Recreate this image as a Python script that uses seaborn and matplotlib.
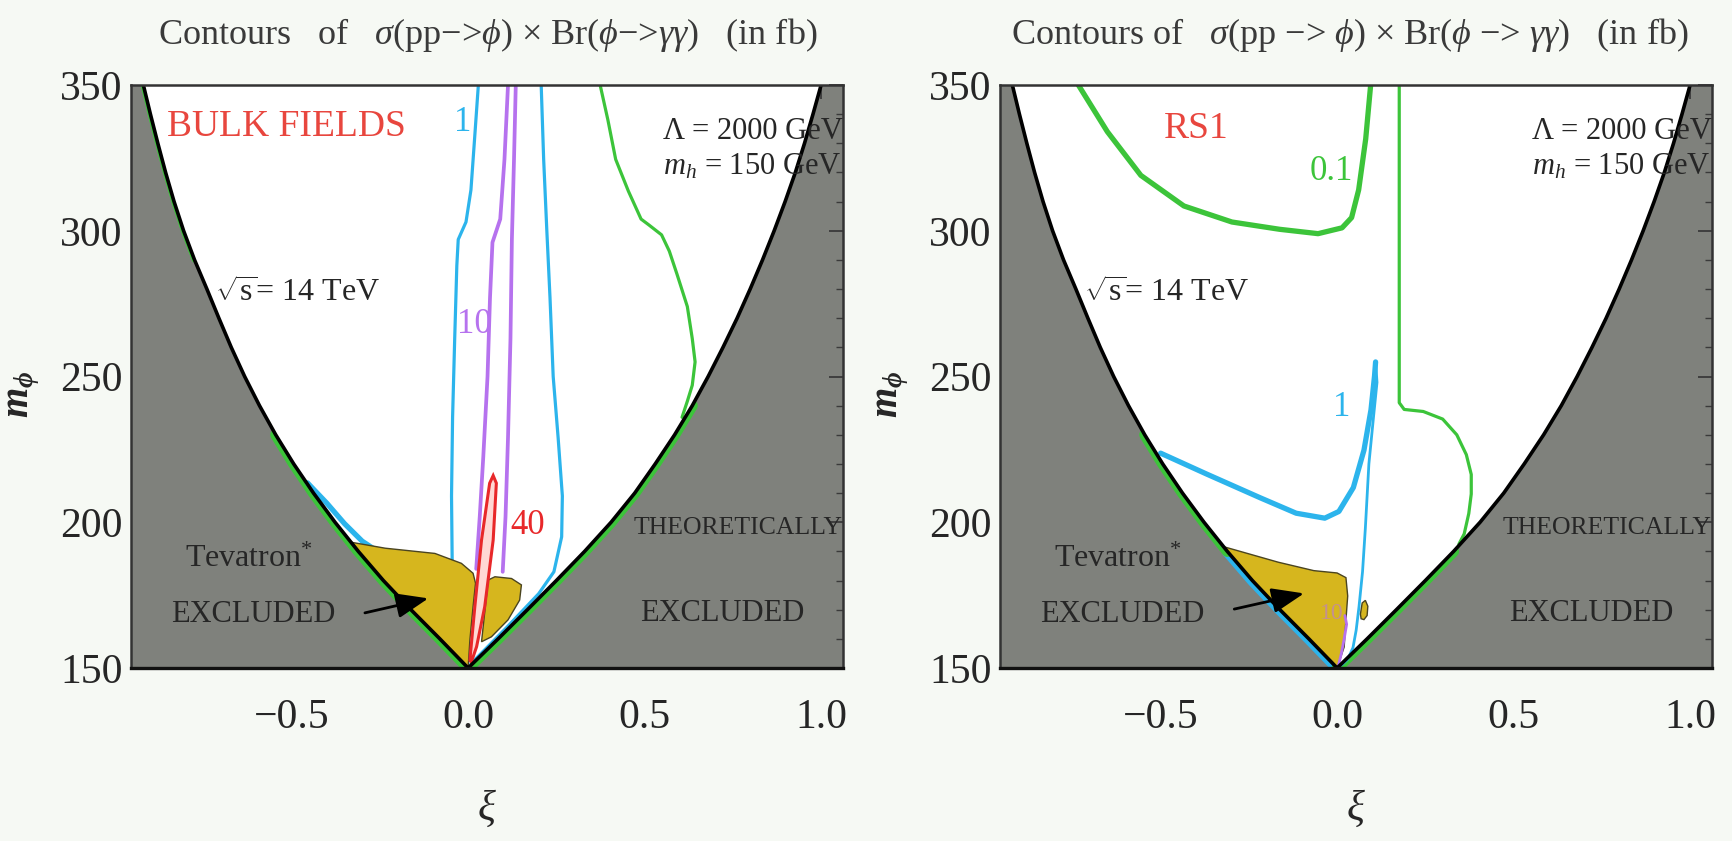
import matplotlib
matplotlib.use("Agg")
import matplotlib.pyplot as plt
from matplotlib.ticker import MultipleLocator
import seaborn as sns

# ---------------------------------------------------------------
# Theoretical bound on the mixing parameter xi (both scenarios)
# ---------------------------------------------------------------
bound_m = [150, 160, 170, 180, 190, 200, 210, 220, 230, 240, 250,
           260, 270, 280, 290, 300, 310, 320, 330, 340, 350]
bound_xi_lo = [0.0, -0.080, -0.162, -0.240, -0.311, -0.377, -0.438, -0.494,
               -0.545, -0.591, -0.633, -0.671, -0.706, -0.740, -0.775,
               -0.806, -0.833, -0.857, -0.879, -0.900, -0.920]
bound_xi_hi = [0.0, 0.085, 0.168, 0.250, 0.330, 0.405, 0.472, 0.530,
               0.585, 0.635, 0.680, 0.722, 0.762, 0.799, 0.834, 0.867,
               0.898, 0.927, 0.953, 0.977, 1.000]

# ---------------------------------------------------------------
# Bulk-fields scenario: contours of sigma x Br (fb)
# ---------------------------------------------------------------
bulk_c1_left_xi = [0.029, 0.018, 0.008, -0.006, -0.028, -0.032, -0.038, -0.044, -0.047, -0.045]
bulk_c1_left_m = [350, 331, 314, 303, 297, 288, 263, 236, 209, 185]
bulk_c1_right_xi = [0.207, 0.214, 0.223, 0.232, 0.241, 0.255, 0.267, 0.265, 0.243, 0.200, 0.110, 0.045, 0.008]
bulk_c1_right_m = [350, 324.5, 300, 277, 250, 229, 209, 195, 183, 175.5, 164, 156, 151.5]
bulk_c1_low_xi = [-0.455, -0.40, -0.35, -0.30, -0.25]
bulk_c1_low_m = [213.5, 206.5, 199.5, 193.5, 189.5]

bulk_c10_left_xi = [0.113, 0.103, 0.091, 0.069, 0.062, 0.055, 0.043, 0.033, 0.023]
bulk_c10_left_m = [350, 324.5, 304, 296, 277, 250, 222.5, 202, 184]
bulk_c10_right_xi = [0.135, 0.130, 0.124, 0.120, 0.113, 0.106, 0.098]
bulk_c10_right_m = [350, 324.5, 297, 263, 229, 202, 183]

bulk_c40_xi = [0.005, 0.019, 0.038, 0.061, 0.071, 0.080, 0.071, 0.047, 0.024, 0.009, 0.005]
bulk_c40_m = [152.7, 171.0, 193.9, 213.4, 216.0, 213.4, 193.9, 171.0, 157.3, 152.0, 152.7]

bulk_c01_xi = [0.374, 0.396, 0.418, 0.454, 0.490, 0.512, 0.548, 0.570, 0.592,
               0.621, 0.635, 0.643, 0.635, 0.621, 0.606]
bulk_c01_m = [350, 338, 324.5, 313.6, 304, 302, 298.6, 293, 285, 274, 263, 255, 247, 241.5, 236]

bulk_tev_xi = [-0.334, -0.235, -0.094, -0.019, 0.014, 0.021, 0.014, 0.005, 0.0,
               -0.080, -0.162, -0.240, -0.311, -0.334]
bulk_tev_m = [193.2, 191.1, 189.3, 185.9, 182.5, 179.1, 171.0, 159.6, 150.0,
              160, 170, 180, 190, 193.2]
bulk_lobe_xi = [0.038, 0.057, 0.076, 0.123, 0.151, 0.146, 0.113, 0.066, 0.038]
bulk_lobe_m = [159.0, 180.2, 181.3, 180.7, 178.5, 173.3, 166.5, 160.7, 159.0]
bulk_arrow_xi = [-0.300, -0.105]
bulk_arrow_m = [168.7, 174.1]

# ---------------------------------------------------------------
# RS1 scenario
# ---------------------------------------------------------------
rs_c01_u_xi = [-0.733, -0.651, -0.556, -0.434, -0.298, -0.163, -0.054, 0.014, 0.041, 0.061, 0.081, 0.095]
rs_c01_u_m = [350, 334, 319, 308.5, 303, 300.5, 299, 301, 304.5, 314, 331.5, 350]
rs_c01_v_xi = [0.176, 0.176, 0.190, 0.244, 0.299, 0.339, 0.366, 0.380, 0.380, 0.373, 0.360, 0.345]
rs_c01_v_m = [350, 241, 238.7, 238, 235.4, 230, 223.2, 216.4, 209.7, 203, 196, 192.5]

rs_c1_thick_xi = [-0.500, -0.369, -0.218, -0.116, -0.035, 0.005, 0.046, 0.076, 0.096, 0.106, 0.109]
rs_c1_thick_m = [223.7, 216.5, 208.4, 203.1, 201.4, 203.7, 211.9, 224.7, 238.6, 250.2, 255]
rs_c1_thin_xi = [0.109, 0.113, 0.103, 0.090, 0.080, 0.072, 0.062, 0.054, 0.045, 0.030, 0.012]
rs_c1_thin_m = [255, 248, 236, 220, 198, 183, 171, 163, 157, 153, 151]

rs_c10_xi = [0.004, 0.012, 0.020, 0.027, 0.022]
rs_c10_m = [151, 155, 160, 165, 168]

rs_tev_xi = [-0.318, -0.167, -0.066, 0.0, 0.025, 0.030, 0.025, 0.020, 0.0,
             -0.080, -0.162, -0.240, -0.311, -0.318]
rs_tev_m = [191.5, 186.3, 183.4, 182.6, 181.0, 174.7, 166.5, 157.2, 150.0,
            160, 170, 180, 190, 191.5]
rs_blob_xi = [0.066, 0.071, 0.080, 0.087, 0.085, 0.076, 0.068, 0.066]
rs_blob_m = [168.5, 172.3, 173.2, 171.2, 168.0, 166.6, 166.9, 168.5]
rs_arrow_xi = [-0.299, -0.086]
rs_arrow_m = [170.0, 175.8]

xi_ticks = [-0.5, 0.0, 0.5, 1.0]
xi_tick_labels = ["−0.5", "0.0", "0.5", "1.0"]
m_ticks = [150, 200, 250, 300, 350]

title_bulk = r"Contours   of   $\sigma$(pp−>$\phi$) × Br($\phi$−>$\gamma\gamma$)   (in fb)"
title_rs = r"Contours of   $\sigma$(pp −> $\phi$) × Br($\phi$ −> $\gamma\gamma$)   (in fb)"

# ---------------------------------------------------------------
# Style
# ---------------------------------------------------------------
sns.set_theme(style="white")
plt.rcParams["font.family"] = ["Liberation Serif", "DejaVu Serif"]
plt.rcParams["mathtext.fontset"] = "custom"
plt.rcParams["mathtext.rm"] = "Liberation Serif"
plt.rcParams["mathtext.it"] = "Liberation Serif:italic"
plt.rcParams["mathtext.bf"] = "Liberation Serif:italic:bold"

BG = "#f6f9f4"
GRAY = "#7f817c"
CYAN = "#2cb4ec"
PURPLE = "#b672ee"
RED = "#e8282a"
GREEN = "#3cc43a"
YELLOW = "#d6b61e"
TXT = "#262626"

fig = plt.figure(figsize=(17.32, 8.41), dpi=100)
fig.patch.set_facecolor(BG)
W, H = 1732.0, 841.0
ax_bulk = fig.add_axes([131 / W, 173 / H, 712 / W, 583 / H])
ax_rs = fig.add_axes([1000 / W, 173 / H, 712 / W, 583 / H])


def line(ax, xs, ys, color, lw, z=3, **kw):
    sns.lineplot(x=xs, y=ys, sort=False, estimator=None, color=color,
                 linewidth=lw, ax=ax, zorder=z, legend=False, **kw)


def halo(ax, side, m_lo, m_hi, color, lw=8):
    xs = [x for x, m in zip(side, bound_m) if m_lo <= m <= m_hi]
    ms = [m for m in bound_m if m_lo <= m <= m_hi]
    line(ax, xs, ms, color, lw, z=1.2)


def base_panel(ax):
    ax.set_facecolor(GRAY)
    ax.fill_betweenx(bound_m, bound_xi_lo, bound_xi_hi, color="white",
                     lw=0, zorder=1.5)
    line(ax, bound_xi_lo, bound_m, "black", 2.6, z=6)
    line(ax, bound_xi_hi, bound_m, "black", 2.6, z=6)

    ax.set_xlim(-0.955, 1.062)
    ax.set_ylim(150, 350)
    ax.set_xticks(xi_ticks)
    ax.set_xticklabels(xi_tick_labels)
    ax.set_yticks(m_ticks)
    ax.set_yticklabels([str(v) for v in m_ticks])
    ax.xaxis.set_minor_locator(MultipleLocator(0.1))
    ax.yaxis.set_minor_locator(MultipleLocator(10))
    ax.tick_params(which="major", direction="in", length=10, width=1.3,
                   color="#3a3a3a", top=True, right=True, labelsize=30,
                   labelcolor=TXT)
    ax.tick_params(which="minor", direction="in", length=5, width=1.0,
                   color="#3a3a3a", top=True, right=True)
    ax.tick_params(axis="x", which="major", pad=22)
    ax.tick_params(axis="y", which="major", pad=6)
    for s in ax.spines.values():
        s.set_color("#333333")
        s.set_linewidth(1.8)
        s.set_zorder(8)
    ax.spines["bottom"].set_color("#111111")
    ax.spines["bottom"].set_linewidth(2.4)

    ax.set_xlabel(r"$\xi$", fontsize=30, color=TXT)
    ax.xaxis.set_label_coords(0.5, -0.205)
    ax.set_ylabel(r"$\mathbf{m_{\phi}}$", fontsize=28, color=TXT)
    ax.yaxis.set_label_coords(-0.125, 0.47)

    tkw = dict(transform=ax.transAxes, color=TXT, zorder=9)
    ax.text(0.747, 0.920, "Λ = 2000 GeV", fontsize=22, va="center", ha="left", **tkw)
    ax.text(0.747, 0.859, r"$m_h$ = 150 GeV", fontsize=22, va="center", ha="left", **tkw)
    ax.text(0.118, 0.641, r"$\sqrt{\mathrm{s}}$= 14 TeV", fontsize=23, va="center", ha="left", **tkw)
    ax.text(0.165, 0.186, r"Tevatron$^{*}$", fontsize=23, va="center", ha="center", **tkw)
    ax.text(0.172, 0.092, "EXCLUDED", fontsize=22, va="center", ha="center", **tkw)
    ax.text(0.706, 0.240, "THEORETICALLY", fontsize=18.5, va="center", ha="left",
            clip_on=True, **tkw)
    ax.text(0.830, 0.093, "EXCLUDED", fontsize=22, va="center", ha="center", **tkw)


# ---------------------------- bulk fields panel ----------------------------
ax = ax_bulk
halo(ax, bound_xi_lo, 150, 230, GREEN)
halo(ax, bound_xi_hi, 150, 240, GREEN)
halo(ax, bound_xi_lo, 290, 350, GREEN, lw=4)
base_panel(ax)

line(ax, bulk_c01_xi, bulk_c01_m, GREEN, 2.3)
line(ax, bulk_c1_left_xi, bulk_c1_left_m, CYAN, 2.3)
line(ax, bulk_c1_right_xi, bulk_c1_right_m, CYAN, 2.3)
line(ax, bulk_c1_low_xi, bulk_c1_low_m, CYAN, 3.8)
line(ax, bulk_c10_left_xi, bulk_c10_left_m, PURPLE, 2.7)
line(ax, bulk_c10_right_xi, bulk_c10_right_m, PURPLE, 2.7)
ax.fill(bulk_tev_xi, bulk_tev_m, facecolor=YELLOW, edgecolor="#4a4420", lw=1.0, zorder=3.5)
ax.fill(bulk_lobe_xi, bulk_lobe_m, facecolor=YELLOW, edgecolor="#4a4420", lw=1.0, zorder=3.5)
ax.fill(bulk_c40_xi, bulk_c40_m, facecolor="#ffd8d4", edgecolor=RED, lw=2.2, zorder=4)
ax.annotate("", xy=(bulk_arrow_xi[1], bulk_arrow_m[1]),
            xytext=(bulk_arrow_xi[0], bulk_arrow_m[0]),
            arrowprops=dict(arrowstyle="-|>,head_length=0.9,head_width=0.35",
                            color="black", lw=2.0, mutation_scale=22),
            zorder=7)

ax.text(0.05, 0.928, "BULK FIELDS", transform=ax.transAxes, color="#e8463e",
        fontsize=27, va="center", ha="left", zorder=9)
ax.text(0.466, 0.935, "1", transform=ax.transAxes, color=CYAN, fontsize=25,
        va="center", ha="center", zorder=9)
ax.text(0.482, 0.590, "10", transform=ax.transAxes, color=PURPLE, fontsize=25,
        va="center", ha="center", zorder=9)
ax.text(0.557, 0.244, "40", transform=ax.transAxes, color=RED, fontsize=25,
        va="center", ha="center", zorder=9)

# ---------------------------- RS1 panel ----------------------------
ax = ax_rs
halo(ax, bound_xi_lo, 150, 190, CYAN)
halo(ax, bound_xi_lo, 190, 230, GREEN)
halo(ax, bound_xi_hi, 150, 190, GREEN)
base_panel(ax)

line(ax, rs_c01_u_xi, rs_c01_u_m, GREEN, 3.8)
line(ax, rs_c01_v_xi, rs_c01_v_m, GREEN, 2.3)
line(ax, rs_c1_thick_xi, rs_c1_thick_m, CYAN, 3.8)
line(ax, rs_c1_thin_xi, rs_c1_thin_m, CYAN, 2.0)
line(ax, rs_c10_xi, rs_c10_m, PURPLE, 2.0, z=4)
ax.fill(rs_tev_xi, rs_tev_m, facecolor=YELLOW, edgecolor="#4a4420", lw=1.0, zorder=3.5)
ax.fill(rs_blob_xi, rs_blob_m, facecolor=YELLOW, edgecolor="#4a4420", lw=1.0, zorder=3.5)
ax.annotate("", xy=(rs_arrow_xi[1], rs_arrow_m[1]),
            xytext=(rs_arrow_xi[0], rs_arrow_m[0]),
            arrowprops=dict(arrowstyle="-|>,head_length=0.9,head_width=0.35",
                            color="black", lw=2.0, mutation_scale=22),
            zorder=7)

ax.text(0.23, 0.925, "RS1", transform=ax.transAxes, color="#e8463e",
        fontsize=27, va="center", ha="left", zorder=9)
ax.text(0.466, 0.852, "0.1", transform=ax.transAxes, color=GREEN, fontsize=25,
        va="center", ha="center", zorder=9)
ax.text(0.480, 0.447, "1", transform=ax.transAxes, color=CYAN, fontsize=25,
        va="center", ha="center", zorder=9)
ax.text(0.466, 0.094, "10", transform=ax.transAxes, color=PURPLE, fontsize=17,
        alpha=0.55, va="center", ha="center", zorder=9)

# ---------------------------- titles ----------------------------
fig.text(488 / W, 1 - 35 / H, title_bulk, fontsize=26, ha="center",
         va="center", color="#3a3a3a")
fig.text(1350 / W, 1 - 35 / H, title_rs, fontsize=26, ha="center",
         va="center", color="#3a3a3a")

fig.savefig("out.png", dpi=100, facecolor=BG)
